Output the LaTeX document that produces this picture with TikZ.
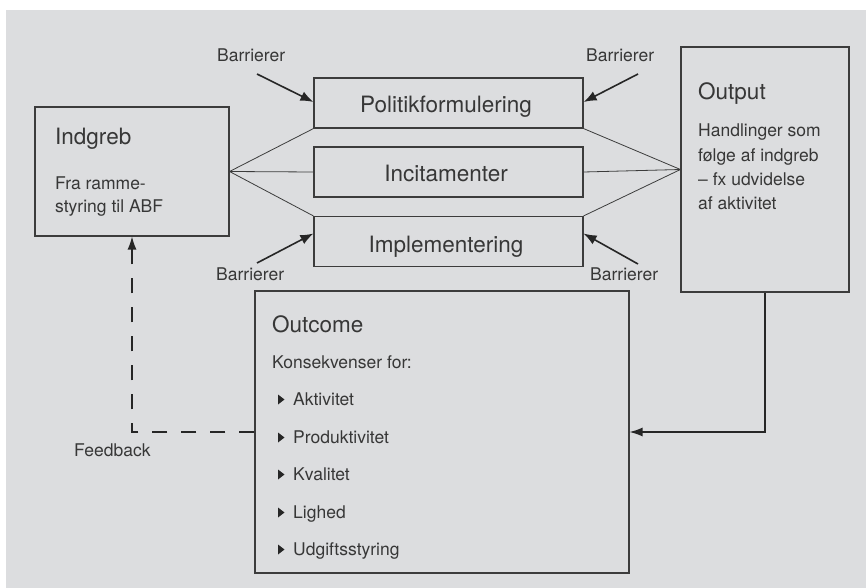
\documentclass[tikz,border=0pt]{standalone}
\usepackage{fontspec}
\setmainfont{TeX Gyre Heros}
\usetikzlibrary{arrows.meta}
\definecolor{bg}{RGB}{220,221,223}
\definecolor{ink}{RGB}{55,55,55}
\definecolor{edge}{RGB}{60,60,60}
\tikzset{
  box/.style={draw=edge, line width=1.1pt, rectangle, inner sep=0pt},
  thin/.style={draw=edge, line width=0.8pt},
  barrow/.style={draw=black!85, line width=1.6pt, -{Latex[length=13pt,width=10pt]}},
  flow/.style={draw=black!85, line width=1.3pt, -{Latex[length=13pt,width=9pt]}},
  title/.style={anchor=base west, inner sep=0pt, text=ink, font=\fontsize{22.5}{27}\selectfont},
  ctitle/.style={anchor=base, inner sep=0pt, text=ink, font=\fontsize{22.5}{27}\selectfont},
  body/.style={anchor=base west, inner sep=0pt, text=ink, font=\fontsize{17.5}{23}\selectfont},
}
\begin{document}
\begin{tikzpicture}[x=1pt,y=-1pt]
\useasboundingbox (0,0) rectangle (866,588);
\fill[bg] (6,10) rectangle (866,588);

% boxes
\node[box, minimum width=194pt, minimum height=129pt] (ind) at (132,171.5) {};
\node[box, minimum width=269pt, minimum height=50pt] (pol) at (448.5,103) {};
\node[box, minimum width=269pt, minimum height=50pt] (inc) at (448.5,172) {};
\node[box, minimum width=269pt, minimum height=50pt] (imp) at (448.5,241.5) {};
\node[box, minimum width=168pt, minimum height=245pt] (out) at (765,169.5) {};
\node[box, minimum width=374pt, minimum height=282pt] (oc) at (442,432) {};

% box texts
\node[ctitle] (tpol) at (446,113) {Politikformulering};
\node[ctitle] (tinc) at (446,182) {Incitamenter};
\node[ctitle] (timp) at (446,252) {Implementering};

\node[title] (tind) at (55,145) {Indgreb};
\node[body] (ind1) at (55,189) {Fra ramme-};
\node[body] (ind2) at (55,212) {styring til ABF};

\node[title] (tout) at (698,100) {Output};
\node[body] (out1) at (698,137) {Handlinger som};
\node[body] (out2) at (698,161) {følge af indgreb};
\node[body] (out3) at (698,185) {– fx udvidelse};
\node[body] (out4) at (698,209) {af aktivitet};

\node[title] (toc) at (272,332) {Outcome};
\node[body] (oc0) at (272,368) {Konsekvenser for:};
\foreach \yy/\tt in {405/Aktivitet,443/Produktivitet,480/Kvalitet,518/Lighed,555/Udgiftsstyring}{
  \node[body] (it\yy) at (293,\yy) {\tt};
  \fill[black!85] (278,\yy-10.5) -- (284.5,\yy-5.5) -- (278,\yy-0.5) -- cycle;
}

% connectors
\draw[thin] (ind.east) -- (pol.south west);
\draw[thin] (ind.east) -- (inc.west);
\draw[thin] (ind.east) -- (imp.north west);
\draw[thin] (out.west) -- (pol.south east);
\draw[thin] (out.west) -- (inc.east);
\draw[thin] (out.west) -- (imp.north east);

\draw[flow] (out.south) |- (oc.east);
\draw[flow, dash pattern=on 15pt off 14pt] (oc.west) -| (ind.south);
\node[body] (fb) at (74,456) {Feedback};

% barriers
\node[body] (b1) at (217,62) {Barrierer};
\node[body] (b2) at (586,62) {Barrierer};
\node[body] (b3) at (216,280) {Barrierer};
\node[body] (b4) at (590,280) {Barrierer};
\coordinate (c1) at (257,74);
\coordinate (c2) at (638,74);
\coordinate (c3) at (257,263);
\coordinate (c4) at (638,264);
\draw[barrow] (c1) -- ([yshift=1pt]pol.west);
\draw[barrow] (c2) -- ([yshift=1pt]pol.east);
\draw[barrow] (c3) -- ([yshift=8pt]imp.west);
\draw[barrow] (c4) -- ([yshift=8pt]imp.east);
\end{tikzpicture}
\end{document}
